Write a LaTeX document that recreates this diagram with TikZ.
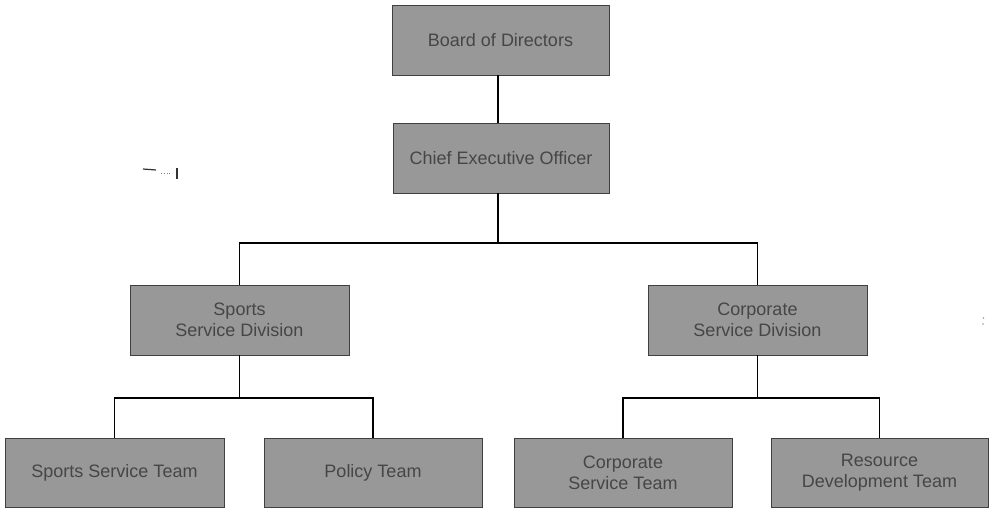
\documentclass[tikz,border=0pt]{standalone}
\usepackage{fontspec}
\setmainfont{Liberation Sans}
\definecolor{boxgray}{RGB}{152,152,152}
\definecolor{txtgray}{RGB}{70,70,70}
\begin{document}
\begin{tikzpicture}[x=1pt,y=-1pt,
  orgbox/.style={draw=black!75, line width=0.9pt, fill=boxgray, minimum width=218pt, minimum height=70pt,
    inner sep=0pt, align=center, text=txtgray, font=\fontsize{18}{21}\selectfont},
  link/.style={draw=black, line width=1.6pt}]
\useasboundingbox (0,0) rectangle (989,509);
\node[orgbox, minimum width=217pt] (board) at (500.5,40) {Board of Directors};
\node[orgbox, minimum width=216pt] (ceo) at (501,158) {Chief Executive Officer};
\node[orgbox, minimum width=219pt] (sdiv) at (239.5,320) {Sports\\Service Division};
\node[orgbox, minimum width=219pt] (cdiv) at (757.5,320) {Corporate\\Service Division};
\node[orgbox, minimum width=219pt, minimum height=69pt] (sst) at (114.5,472.5) {Sports Service Team};
\node[orgbox, minimum height=69pt] (pol) at (373,472.5) {Policy Team};
\node[orgbox, minimum height=69pt] (cst) at (623,472.5) {Corporate\\Service Team};
\node[orgbox, minimum width=217pt, minimum height=69pt] (rdt) at (879.5,472.5) {Resource\\Development Team};
\coordinate (j1) at (498,243);
\coordinate (j2) at (239.5,398);
\coordinate (j3) at (757.5,398);
\draw[link] (board.south -| j1) -- (ceo.north -| j1);
\draw[link] (ceo.south -| j1) -- (j1);
\draw[link] (sdiv.north) |- (j1) -| (cdiv.north);
\draw[link] (sdiv.south) -- (j2);
\draw[link] (sst.north) |- (j2) -| (pol.north);
\draw[link] (cdiv.south) -- (j3);
\draw[link] (cst.north) |- (j3) -| (rdt.north);
% stray scan marks
\draw[black!80, line width=1.2pt] (143,169) -- (156,170);
\draw[black!50, line width=0.8pt, dotted] (161,173) -- (172,173);
\draw[black!80, line width=1.2pt] (177,168) -- (177,179);
\fill[black!40] (983.5,318) circle (0.8);
\fill[black!40] (983,324) circle (0.8);
\end{tikzpicture}
\end{document}
